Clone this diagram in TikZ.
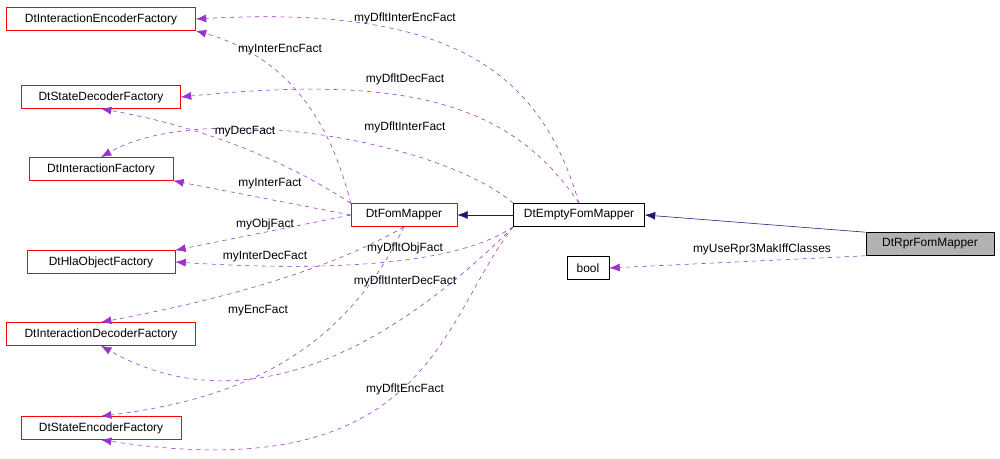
\documentclass[tikz,border=0pt]{standalone}
\usepackage{fontspec}
\setmainfont{Liberation Sans}
\usetikzlibrary{arrows.meta}
\definecolor{dxpurple}{HTML}{9A32CD}
\definecolor{dxnavy}{HTML}{191970}
\tikzset{
  cls/.style={draw=red, rectangle, inner sep=0pt, minimum height=0.575cm, font=\fontsize{8.5}{10}\selectfont},
  main/.style={cls, draw=black},
  use/.style={dashed, dxpurple, -{Latex[length=2.6mm,width=2mm]}},
  inh/.style={dxnavy, -{Latex[length=2.6mm,width=2mm,open,fill=dxnavy]}},
  lbl/.style={font=\fontsize{8.5}{10}\selectfont}
}
\begin{document}
\begin{tikzpicture}[x=0.025cm, y=-0.025cm]
    \useasboundingbox (0,0) rectangle (1000,459);
    % class boxes
    \node[cls, minimum width=4.725cm] (iencf) at (101,19)  {DtInteractionEncoderFactory};
    \node[cls, minimum width=3.975cm] (sdecf) at (101,97)  {DtStateDecoderFactory};
    \node[cls, minimum width=3.6cm]   (intf)  at (101,169) {DtInteractionFactory};
    \node[cls, minimum width=3.7cm]   (hlaf)  at (101,262) {DtHlaObjectFactory};
    \node[cls, minimum width=4.725cm] (idecf) at (101,334) {DtInteractionDecoderFactory};
    \node[cls, minimum width=4cm]     (sencf) at (101,428) {DtStateEncoderFactory};
    \node[cls, minimum width=2.65cm]  (fm)    at (404,215) {DtFomMapper};
    \node[main, minimum width=3.275cm](efm)   at (579,215) {DtEmptyFomMapper};
    \node[main, minimum width=1.05cm] (bool)  at (588,268) {bool};
    \node[main, fill=black!30, minimum width=3.2cm] (rfm) at (930,244) {DtRprFomMapper};

    % inheritance
    \draw[inh] (efm) -- (fm);
    \draw[inh] (rfm.north west) -- (efm.east);

    % members of DtFomMapper
    \draw[use] (fm.north west) .. controls (335,140) and (300,60) .. (iencf.south east);
    \draw[use] (fm.north west) .. controls (300,170) and (220,130) .. (sdecf.south);
    \draw[use] (fm.west) -- (intf.south east);
    \draw[use] (fm.west) -- (hlaf.north east);
    \draw[use] (fm.south) .. controls (330,270) and (220,300) .. (idecf.north);
    \draw[use] (fm.south) .. controls (340,360) and (230,400) .. (sencf.north);

    % members of DtEmptyFomMapper
    \draw[use] (efm.north) .. controls (540,70) and (450,5) .. (iencf.east);
    \draw[use] (efm.north) .. controls (510,100) and (400,75) .. (sdecf.east);
    \draw[use] (efm.north west) .. controls (440,140) and (200,100) .. (intf.north);
    \draw[use] (efm.south west) .. controls (450,270) and (300,270) .. (hlaf.east);
    \draw[use] (efm.south west) .. controls (400,340) and (250,430) .. (idecf.south);
    \draw[use] (efm.south west) .. controls (440,320) and (430,490) .. (sencf.south);

    % member of DtRprFomMapper
    \draw[use] (rfm.south west) -- (bool.east);

    % labels
    \node[lbl] (l1)  at (405,18)  {myDfltInterEncFact};
    \node[lbl] (l2)  at (280,50)  {myInterEncFact};
    \node[lbl] (l3)  at (405,79)  {myDfltDecFact};
    \node[lbl] (l4)  at (245,132) {myDecFact};
    \node[lbl] (l5)  at (405,127) {myDfltInterFact};
    \node[lbl] (l6)  at (270,184) {myInterFact};
    \node[lbl] (l7)  at (265,224) {myObjFact};
    \node[lbl] (l8)  at (265,257) {myInterDecFact};
    \node[lbl] (l9)  at (405,248) {myDfltObjFact};
    \node[lbl] (l10) at (405,281) {myDfltInterDecFact};
    \node[lbl] (l11) at (258,311) {myEncFact};
    \node[lbl] (l12) at (405,389) {myDfltEncFact};
    \node[lbl] (l13) at (762,249) {myUseRpr3MakIffClasses};
\end{tikzpicture}
\end{document}
